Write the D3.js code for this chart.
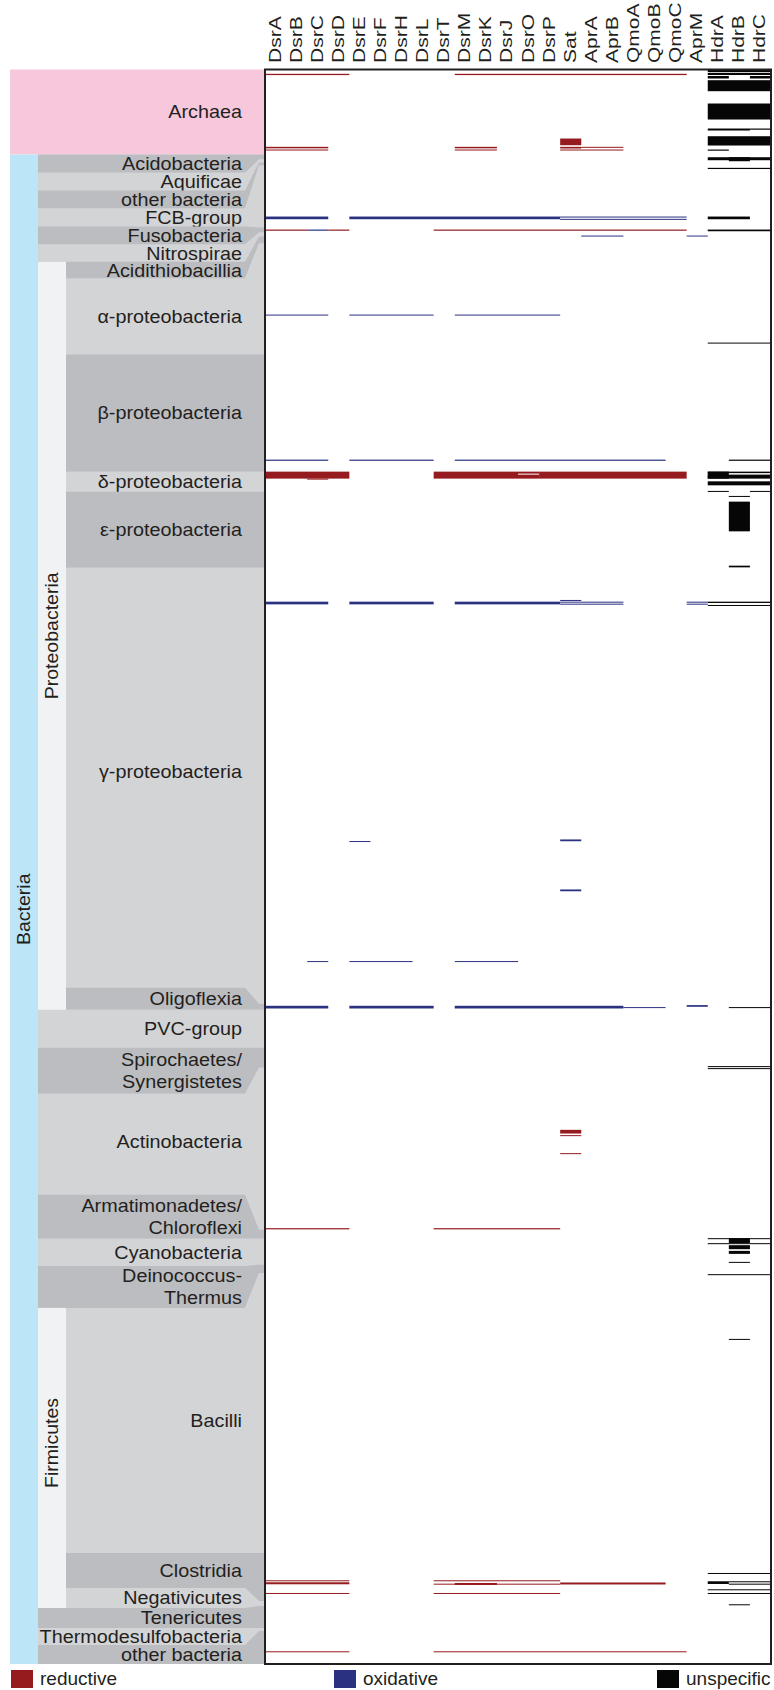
<!DOCTYPE html>
<html>
<head>
<meta charset="utf-8">
<script src="https://cdn.jsdelivr.net/npm/d3@7"></script>
<style>
  body { margin: 0; background: #fff; }
  svg { display: block; }
  text { font-family: "Liberation Sans", Arial, sans-serif; fill: #231f20; }
</style>
</head>
<body>
<svg id="chart"></svg>
<script>
// gene columns
const genes = ["DsrA","DsrB","DsrC","DsrD","DsrE","DsrF","DsrH","DsrL","DsrT","DsrM","DsrK","DsrJ","DsrO","DsrP",
               "Sat","AprA","AprB","QmoA","QmoB","QmoC","AprM","HdrA","HdrB","HdrC"];

// taxa, in genome order
const taxa = ["Archaea","Acidobacteria","Aquificae","other bacteria","FCB-group","Fusobacteria","Nitrospirae",
              "Acidithiobacillia","α-proteobacteria","β-proteobacteria","δ-proteobacteria","ε-proteobacteria",
              "γ-proteobacteria","Oligoflexia","PVC-group","Spirochaetes/\nSynergistetes","Actinobacteria",
              "Armatimonadetes/\nChloroflexi","Cyanobacteria","Deinococcus-\nThermus","Bacilli","Clostridia",
              "Negativicutes","Tenericutes","Thermodesulfobacteria","other bacteria"];
// genome rank where each taxon starts (last entry = total)
const taxonBounds = [0,85,90,93,96,158,163,167,174,285,402,422,498,934,940,978,998,1160,1169,1195,1203,
                     1483,1531,1536,1558,1561,1594];
// rank span of each label slot on the left
const labelBounds = [0,85,103.3,121,139,157,175,192.3,209,285,402,422,498,918,940,978,1024,1125,1169,1196,
                     1238,1483,1518,1538,1558,1575,1594];
const proteobacteria = ["Acidithiobacillia","α-proteobacteria","β-proteobacteria","δ-proteobacteria",
                        "ε-proteobacteria","γ-proteobacteria","Oligoflexia"];
const firmicutes = ["Bacilli","Clostridia","Negativicutes"];

// hits: [genome rank, genome count, first gene, last gene]
const reductive = [
  [4.3,1.3,"DsrA","DsrD"],[4.3,1.3,"DsrM","QmoC"],
  [77.3,1.5,"DsrA","DsrC"],[77.3,1.5,"DsrM","DsrK"],[80,1,"DsrA","DsrC"],[80,1,"DsrM","DsrK"],
  [69,6.7,"Sat","Sat"],[77.3,1.7,"Sat","Sat"],[77.3,1,"AprA","AprB"],[80,1,"Sat","AprB"],
  [160,1.2,"DsrA","DsrB"],[160,1.2,"DsrD","DsrD"],[160,1.2,"DsrT","QmoC"],
  [402,7,"DsrA","DsrD"],[409,1,"DsrC","DsrC"],[402,7,"DsrT","DsrJ"],[402,2,"DsrO","DsrO"],
  [405,4,"DsrO","DsrO"],[402,7,"DsrP","QmoC"],
  [1060,3.7,"Sat","Sat"],[1065.3,1,"Sat","Sat"],[1083.3,1,"Sat","Sat"],
  [1158.3,1.2,"DsrA","DsrD"],[1158.3,1.2,"DsrT","DsrP"],
  [1510.3,1,"DsrA","DsrD"],[1512.3,2,"DsrA","DsrD"],[1510.3,1,"DsrT","DsrP"],[1513.7,1,"DsrT","DsrP"],
  [1513,2,"DsrM","DsrK"],[1512.5,2,"Sat","QmoB"],
  [1523,1,"DsrA","DsrD"],[1523,1,"DsrT","DsrP"],
  [1581.3,1,"DsrA","DsrD"],[1581.3,1,"DsrT","QmoC"]
];
const oxidative = [
  [147,2.7,"DsrA","DsrC"],[147,2.7,"DsrE","DsrP"],[147,1,"Sat","QmoC"],[149.3,1,"Sat","QmoC"],
  [160,1.2,"DsrC","DsrC"],[166,1,"AprA","AprB"],[166,1,"AprM","AprM"],
  [245,1,"DsrA","DsrC"],[245,1,"DsrE","DsrL"],[245,1,"DsrM","DsrP"],
  [390,1.2,"DsrA","DsrC"],[390,1.2,"DsrE","DsrL"],[390,1.2,"DsrM","QmoB"],
  [532,2.7,"DsrA","DsrC"],[532,2.7,"DsrE","DsrL"],[532,2.7,"DsrM","DsrP"],[530.3,1,"Sat","Sat"],
  [532,1,"Sat","AprB"],[534,1,"Sat","AprB"],[532,1,"AprM","AprM"],[534,1,"AprM","AprM"],
  [771.3,1,"DsrE","DsrE"],[769.7,1.8,"Sat","Sat"],[819.7,1.8,"Sat","Sat"],
  [891.3,1,"DsrC","DsrC"],[891.3,1,"DsrE","DsrH"],[891.3,1,"DsrM","DsrJ"],
  [936,2.7,"DsrA","DsrC"],[936,2.7,"DsrE","DsrL"],[936,2.7,"DsrM","AprB"],[937.3,1,"QmoA","QmoB"],
  [935.3,1.7,"AprM","AprM"]
];
const unspecific = [
  [0,2.7,"HdrA","HdrC"],[3.5,2,"HdrA","HdrC"],[6.5,2.5,"HdrA","HdrA"],[6.5,2.5,"HdrC","HdrC"],
  [10.7,11,"HdrA","HdrC"],[34,16,"HdrA","HdrC"],[59,2,"HdrA","HdrB"],[59,1.2,"HdrC","HdrC"],
  [66.7,9.3,"HdrA","HdrC"],[80,1.2,"HdrA","HdrA"],[87.7,3,"HdrA","HdrC"],[87.7,4,"HdrB","HdrB"],
  [98.3,1.2,"HdrA","HdrC"],[147,2.7,"HdrA","HdrB"],[160,1.7,"HdrA","HdrC"],
  [273,1,"HdrA","HdrC"],[390,1.2,"HdrB","HdrC"],
  [402,1.5,"HdrA","HdrC"],[402,7,"HdrA","HdrA"],[405,4,"HdrA","HdrC"],[411.7,4,"HdrA","HdrC"],
  [421.3,1,"HdrA","HdrA"],[421.3,1,"HdrC","HdrC"],[426.3,1,"HdrB","HdrB"],[432,29.7,"HdrB","HdrB"],
  [496,1.7,"HdrB","HdrB"],[532,1.3,"HdrA","HdrC"],[535.3,1,"HdrA","HdrC"],
  [937.3,1,"HdrB","HdrC"],[996.3,1,"HdrA","HdrC"],[998.3,1,"HdrA","HdrC"],
  [1168.3,1,"HdrA","HdrC"],[1168.3,5,"HdrB","HdrB"],[1173.3,1,"HdrA","HdrC"],[1175.3,4,"HdrB","HdrB"],
  [1181,3,"HdrB","HdrB"],[1192,1,"HdrB","HdrB"],[1204.3,1,"HdrA","HdrC"],
  [1269,1,"HdrB","HdrB"],
  [1503,1,"HdrA","HdrC"],[1511.3,2.7,"HdrA","HdrA"],[1511.3,1,"HdrB","HdrC"],[1513.7,1,"HdrB","HdrC"],
  [1519.3,1,"HdrA","HdrC"],[1523,1,"HdrA","HdrC"],[1534.3,1,"HdrB","HdrB"]
];
const legendLabels = ["reductive","oxidative","unspecific"];

/////////////////////////////////////////////////////////////////////
var width = 774, height = 1690;
var frameL = 265, frameR = 771, frameT = 69.5, frameB = 1664;
var colors = { reductive: "#951b1f", oxidative: "#2b3181", unspecific: "#060606" };
// labels that sit a bit above the middle of their slot
var nudge = { "γ-proteobacteria": -6, "Bacilli": -10, "Actinobacteria": -3, "Firmicutes": -15 };

var svg = d3.select("#chart").attr("width", width).attr("height", height);

var x = d3.scaleBand().domain(genes).range([frameL, frameR]);
var y = d3.scaleLinear().domain([0, taxonBounds[taxonBounds.length - 1]]).range([frameT, frameB]);

// ---- left panel: taxonomy
var left = svg.append("g");
// bacteria background
left.append("rect")
    .attr("x", 38).attr("y", y(labelBounds[1]))
    .attr("width", frameL - 38).attr("height", y(labelBounds[labelBounds.length - 1]) - y(labelBounds[1]))
    .attr("fill", "#d3d4d6");

var xa = 245, xb = 259;
taxa.forEach(function (name, i) {
    var indent = i === 0 ? 10 : (proteobacteria.includes(name) || firmicutes.includes(name)) ? 66 : 38;
    var lt = y(labelBounds[i]), lb = y(labelBounds[i + 1]);
    var dt = y(taxonBounds[i]), db = y(taxonBounds[i + 1]);
    var fill = i === 0 ? "#f7c8dc" : (i % 2 ? "#bcbdc1" : "#d3d4d6");
    var pts = [[indent, lt], [xa, lt], [xb, dt], [frameL, dt], [frameL, db], [xb, db], [xa, lb], [indent, lb]];
    left.append("polygon")
        .attr("points", pts.map(p => p.join(",")).join(" "))
        .attr("fill", fill);

    // label text (one or two lines), glyphs a little squat as in the original
    var lines = name.split("\n");
    var cy = (lt + lb) / 2 + (nudge[name] || 0);
    var lh = 22;
    lines.forEach(function (ln, j) {
        var by = cy + (j - (lines.length - 1) / 2) * lh + 6.3;
        left.append("text")
            .attr("transform", "translate(242," + by + ") scale(1,0.9)")
            .attr("text-anchor", "end")
            .attr("font-size", "19.8px")
            .text(ln);
    });
});

// domain / phylum strips
function strip(x0, w, t, b, fill, label) {
    left.append("rect")
        .attr("x", x0).attr("y", t).attr("width", w).attr("height", b - t)
        .attr("fill", fill);
    left.append("text")
        .attr("transform", "translate(" + (x0 + w / 2 + 6.3) + "," + ((t + b) / 2 + (nudge[label] || 0)) + ") rotate(-90) scale(1,0.9)")
        .attr("text-anchor", "middle")
        .attr("font-size", "19.5px")
        .text(label);
}
strip(10, 28, y(labelBounds[1]), y(labelBounds[labelBounds.length - 1]), "#bde5f8", "Bacteria");
var p0 = taxa.indexOf(proteobacteria[0]), p1 = taxa.indexOf(proteobacteria[proteobacteria.length - 1]) + 1;
strip(38, 28, y(labelBounds[p0]), y(labelBounds[p1]), "#f1f2f4", "Proteobacteria");
var f0 = taxa.indexOf(firmicutes[0]), f1 = taxa.indexOf(firmicutes[firmicutes.length - 1]) + 1;
strip(38, 28, y(labelBounds[f0]), y(labelBounds[f1]), "#f1f2f4", "Firmicutes");

// ---- hits
var hitG = svg.append("g");
[["reductive", reductive], ["oxidative", oxidative], ["unspecific", unspecific]].forEach(function (s) {
    hitG.append("g")
        .selectAll("rect")
        .data(s[1])
        .enter()
        .append("rect")
        .attr("x", d => x(d[2]))
        .attr("width", d => x(d[3]) + x.bandwidth() - x(d[2]))
        .attr("y", d => y(d[0]))
        .attr("height", d => y(d[0] + d[1]) - y(d[0]))
        .attr("fill", colors[s[0]]);
});

// frame
svg.append("rect")
    .attr("x", frameL).attr("y", frameT)
    .attr("width", frameR - frameL).attr("height", frameB - frameT)
    .attr("fill", "none")
    .attr("stroke", "#231f20")
    .attr("stroke-width", 2);

// gene labels
svg.append("g")
    .selectAll("text")
    .data(genes)
    .enter()
    .append("text")
    .attr("transform", d => "translate(" + (x(d) + x.bandwidth() / 2 + 5) + ",63) rotate(-90) scale(1,0.76)")
    .attr("text-anchor", "start")
    .attr("font-size", "21px")
    .text(d => d);

// legend
var legX = d3.scalePoint().domain(legendLabels).range([11, 657]);
var leg = svg.append("g")
    .selectAll("g")
    .data(legendLabels)
    .enter()
    .append("g")
    .attr("transform", d => "translate(" + legX(d) + ",1670)");
leg.append("rect")
    .attr("width", 22).attr("height", 18)
    .attr("fill", d => colors[d]);
leg.append("text")
    .attr("x", 29).attr("y", 14.5)
    .attr("font-size", "19px")
    .text(d => d);
</script>
</body>
</html>
